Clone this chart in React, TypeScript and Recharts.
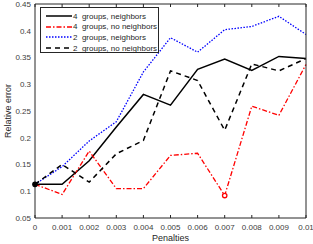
import React from "react";
import { LineChart, Line, XAxis, YAxis } from "recharts";

const penalties = [0, 0.001, 0.002, 0.003, 0.004, 0.005, 0.006, 0.007, 0.008, 0.009, 0.01];
const fourNeighbors = [0.113, 0.113, 0.157, 0.22, 0.281, 0.261, 0.328, 0.347, 0.326, 0.352, 0.348];
const fourNoNeighbors = [0.113, 0.094, 0.175, 0.105, 0.105, 0.167, 0.171, 0.092, 0.259, 0.242, 0.337];
const twoNeighbors = [0.113, 0.146, 0.194, 0.23, 0.323, 0.387, 0.36, 0.402, 0.408, 0.427, 0.393];
const twoNoNeighbors = [0.113, 0.15, 0.117, 0.17, 0.195, 0.325, 0.307, 0.214, 0.338, 0.325, 0.348];

const xTicks = [0, 0.001, 0.002, 0.003, 0.004, 0.005, 0.006, 0.007, 0.008, 0.009, 0.01];
const yTicks = [0.05, 0.1, 0.15, 0.2, 0.25, 0.3, 0.35, 0.4, 0.45];

const series = [
  { key: "fourNb", name: "4  groups, neighbors", color: "#000000", dash: undefined, width: 1.5 },
  { key: "fourNoNb", name: "4  groups, no neighbors", color: "#ff0000", dash: "5 2 1.5 2", width: 1.3 },
  { key: "twoNb", name: "2  groups, neighbors", color: "#0000ff", dash: "1.5 1.5", width: 1.3 },
  { key: "twoNoNb", name: "2  groups, no neighbors", color: "#000000", dash: "5 4", width: 1.5 },
];

const data = penalties.map((p, i) => ({
  p,
  fourNb: fourNeighbors[i],
  fourNoNb: fourNoNeighbors[i],
  twoNb: twoNeighbors[i],
  twoNoNb: twoNoNeighbors[i],
}));

const FONT = "'Liberation Sans', Arial, sans-serif";
const AXIS = "#262626";
const tickStyle = { fontSize: 8, fill: "#404040", fontFamily: FONT };
const blank = () => "";

// marker only at chosen indexes
const markAt = (idx: number, color: string, filled: boolean) => (props: any) => {
  if (props.index !== idx) return <g key={props.key} />;
  return (
    <circle
      key={props.key}
      cx={props.cx}
      cy={props.cy}
      r={2.2}
      fill={filled ? color : "#fff"}
      stroke={color}
      strokeWidth={1.3}
    />
  );
};

function LegendBox() {
  return (
    <div
      style={{
        position: "absolute",
        left: 40,
        top: 7,
        width: 117,
        height: 44,
        border: `1px solid ${AXIS}`,
        background: "#fff",
        fontFamily: FONT,
        fontSize: 8,
        color: "#262626",
      }}
    >
      {series.map((s, i) => (
        <div
          key={s.key}
          style={{ position: "absolute", left: 4, top: 3 + i * 10.7, height: 10, display: "flex", alignItems: "center" }}
        >
          <svg width={27} height={10}>
            <line x1={1} y1={5} x2={27} y2={5} stroke={s.color} strokeWidth={s.width} strokeDasharray={s.dash} />
          </svg>
          <span style={{ marginLeft: 1, whiteSpace: "pre" }}>{s.name}</span>
        </div>
      ))}
    </div>
  );
}

export default function App() {
  return (
    <div style={{ position: "absolute", left: 0, top: 0, width: 313, height: 244, background: "#fff" }}>
      <LineChart width={313} height={244} data={data} margin={{ top: 4, right: 7, left: 0, bottom: 0 }}>
        <XAxis
          xAxisId="main"
          dataKey="p"
          type="number"
          domain={[0, 0.01]}
          ticks={xTicks}
          height={26}
          tickLine={false}
          tickSize={4}
          tickMargin={2}
          tick={tickStyle}
          axisLine={{ stroke: AXIS }}
          interval={0}
          label={{
            content: (p: any) => {
              const vb = p.viewBox;
              return (
                <text
                  x={vb.x + vb.width / 2}
                  y={238}
                  textAnchor="middle"
                  dominantBaseline="central"
                  style={{ fontSize: 9, fill: "#262626", fontFamily: FONT }}
                >
                  Penalties
                </text>
              );
            },
          }}
        />
        <XAxis
          xAxisId="bottomTicks"
          dataKey="p"
          type="number"
          domain={[0, 0.01]}
          ticks={xTicks}
          mirror
          tickSize={3}
          tickFormatter={blank}
          axisLine={false}
          tickLine={{ stroke: AXIS }}
          interval={0}
        />
        <XAxis
          xAxisId="top"
          orientation="top"
          dataKey="p"
          type="number"
          domain={[0, 0.01]}
          ticks={xTicks}
          mirror
          tickSize={3}
          tickFormatter={blank}
          axisLine={{ stroke: AXIS }}
          tickLine={{ stroke: AXIS }}
          interval={0}
        />
        <YAxis
          yAxisId="main"
          type="number"
          domain={[0.05, 0.45]}
          ticks={yTicks}
          width={35}
          tickLine={false}
          tickSize={2}
          tickMargin={2}
          tick={tickStyle}
          axisLine={{ stroke: AXIS }}
          interval={0}
          label={{
            content: (p: any) => {
              const vb = p.viewBox;
              const cx = 8;
              const cy = vb.y + vb.height / 2;
              return (
                <text
                  x={cx}
                  y={cy}
                  transform={`rotate(-90 ${cx} ${cy})`}
                  textAnchor="middle"
                  dominantBaseline="central"
                  style={{ fontSize: 9, fill: "#262626", fontFamily: FONT }}
                >
                  Relative error
                </text>
              );
            },
          }}
        />
        <YAxis
          yAxisId="leftTicks"
          type="number"
          domain={[0.05, 0.45]}
          ticks={yTicks}
          mirror
          tickSize={3}
          tickFormatter={blank}
          axisLine={false}
          tickLine={{ stroke: AXIS }}
          interval={0}
        />
        <YAxis
          yAxisId="right"
          orientation="right"
          type="number"
          domain={[0.05, 0.45]}
          ticks={yTicks}
          mirror
          tickSize={3}
          tickFormatter={blank}
          axisLine={{ stroke: AXIS }}
          tickLine={{ stroke: AXIS }}
          interval={0}
        />
        <Line
          xAxisId="main"
          yAxisId="main"
          dataKey="fourNb"
          stroke="#000"
          strokeWidth={1.5}
          dot={false}
          isAnimationActive={false}
        />
        <Line
          xAxisId="main"
          yAxisId="main"
          dataKey="fourNoNb"
          stroke="#ff0000"
          strokeWidth={1.3}
          strokeDasharray="5 2 1.5 2"
          dot={markAt(7, "#ff0000", false)}
          isAnimationActive={false}
        />
        <Line
          xAxisId="main"
          yAxisId="main"
          dataKey="twoNb"
          stroke="#0000ff"
          strokeWidth={1.3}
          strokeDasharray="1.5 1.5"
          dot={false}
          isAnimationActive={false}
        />
        <Line
          xAxisId="main"
          yAxisId="main"
          dataKey="twoNoNb"
          stroke="#000"
          strokeWidth={1.5}
          strokeDasharray="5 4"
          dot={markAt(0, "#000", true)}
          isAnimationActive={false}
        />
      </LineChart>
      <LegendBox />
    </div>
  );
}
